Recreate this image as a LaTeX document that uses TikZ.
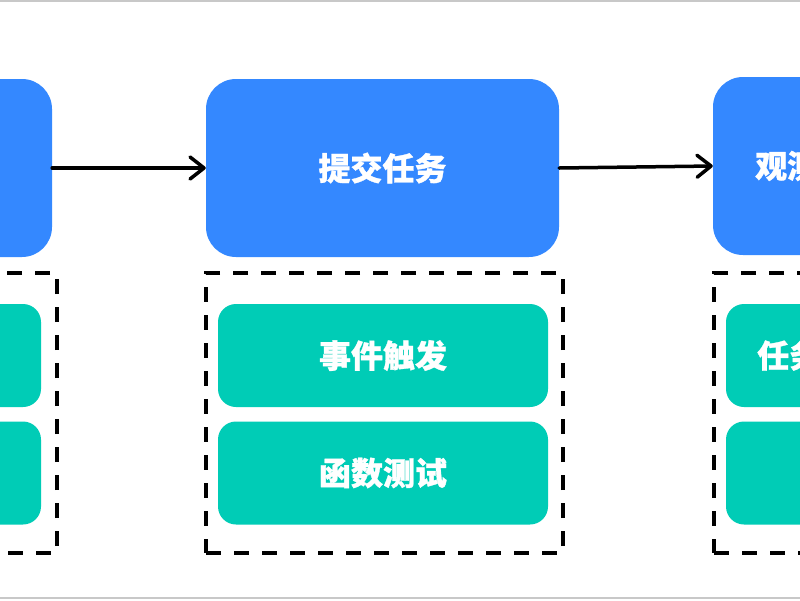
\documentclass[tikz,border=0pt]{standalone}
\usepackage{fontspec}
\newfontfamily\cjk{Noto Sans CJK SC}[BoldFeatures={FakeBold=1}]
\usetikzlibrary{arrows.meta}
\definecolor{bluebox}{RGB}{52,136,255}
\definecolor{greenbox}{RGB}{0,204,182}
\definecolor{framegray}{RGB}{200,200,200}
\tikzset{
  bluenode/.style={fill=bluebox, rounded corners=30pt, minimum width=353pt, minimum height=178pt, inner sep=0pt, text=white, font=\cjk\bfseries\fontsize{32}{38}\selectfont},
  greennode/.style={fill=greenbox, rounded corners=18pt, minimum width=330pt, minimum height=103pt, inner sep=0pt, text=white, font=\cjk\bfseries\fontsize{32}{38}\selectfont},
  dashbox/.style={draw=black, line width=3.5pt, dash pattern=on 15pt off 13pt, minimum width=357pt, minimum height=280pt, inner sep=0pt},
  labeltext/.style={text=white, inner sep=0pt, font=\cjk\bfseries\fontsize{32}{38}\selectfont},
  flow/.style={draw=black, line width=3.5pt, line cap=round, -{Straight Barb[length=14pt,width=22pt,line cap=round,line join=round]}},
  frameline/.style={draw=framegray, line width=2pt}
}
\begin{document}
\begin{tikzpicture}[x=1pt,y=-1pt]
\useasboundingbox (0,0) rectangle (800,600);
\fill[white] (0,0) rectangle (800,600);
\begin{scope}
\clip (0,0) rectangle (800,600);
% dashed groups
\node[dashbox] (d1) at (-121.5,413) {};
\node[dashbox] (d2) at (384.5,413) {};
\node[dashbox] (d3) at (892.5,413) {};
% blue boxes
\node[bluenode] (b1) at (-124.5,168) {};
\node[bluenode] (b2) at (382.5,168) {提交任务};
\node[bluenode] (b3) at (889.5,166) {};
\node[labeltext, anchor=west] (t3) at (755,166) {观测};
% green boxes
\node[greennode] (g11) at (-124,355.5) {};
\node[greennode] (g12) at (-124,473) {};
\node[greennode] (g21) at (383,355.5) {事件触发};
\node[greennode] (g22) at (383,473) {函数测试};
\node[greennode] (g31) at (891,355.5) {};
\node[greennode] (g32) at (891,473) {};
\node[labeltext, anchor=west] (t31) at (757,355.5) {任务};
% arrows
\draw[flow] (b1.east) -- (b2.west);
\draw[flow] (b2.east) -- (b3.west);
\end{scope}
% frame lines
\coordinate (ftl) at (0,1);
\coordinate (ftr) at (800,1);
\coordinate (fbl) at (0,597.5);
\coordinate (fbr) at (800,597.5);
\draw[frameline] (ftl) -- (ftr);
\draw[frameline] (fbl) -- (fbr);
\end{tikzpicture}
\end{document}
